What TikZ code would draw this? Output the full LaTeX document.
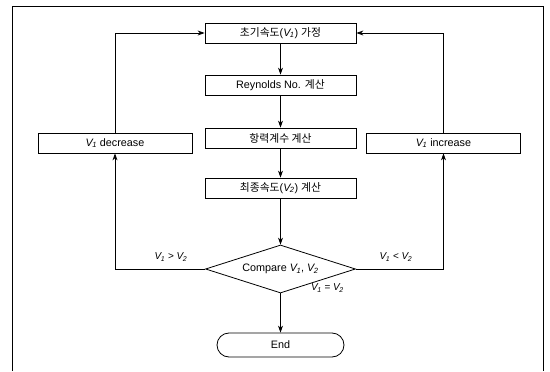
\documentclass[tikz,border=0pt]{standalone}
\usepackage{fontspec}
\setmainfont{Liberation Sans}
\newfontfamily\kr{Noto Sans CJK KR}
\usetikzlibrary{shapes.geometric,arrows.meta}
\newcommand{\Vsub}[1]{\textit{V\kern-0.05em\textsubscript{#1}}}
\tikzset{
  txt/.style={font=\fontsize{10.8}{12}\selectfont},
  proc/.style={draw, line width=0.8pt, minimum width=151pt, minimum height=20pt, inner sep=0pt, txt},
  side/.style={draw, line width=0.8pt, minimum width=154pt, minimum height=20pt, inner sep=0pt, txt},
  decide/.style={draw, line width=0.8pt, diamond, aspect=3.125, minimum width=150pt, minimum height=48pt, inner sep=0pt, txt},
  term/.style={draw, line width=0.8pt, rounded corners=12pt, minimum width=127pt, minimum height=24pt, inner sep=0pt, txt},
  cond/.style={inner sep=1pt, font=\fontsize{10}{11}\selectfont},
  flow/.style={line width=0.8pt, -{Stealth[length=7pt,width=5pt]}},
  frame/.style={line width=0.9pt}
}
\begin{document}
\begin{tikzpicture}[x=1pt,y=-1pt]
  \useasboundingbox (0,0) rectangle (550,372);
  % page frame, open at the bottom
  \draw[frame] (12,371) -- (12,6) -- (543,6) -- (543,371);

  % main column
  \node[proc] (init)  at (280.5,33)  {{\kr 초기속도}(\Vsub{1}) {\kr 가정}};
  \node[proc] (reyn)  at (280.5,85)  {Reynolds No. {\kr 계산}};
  \node[proc] (drag)  at (280.5,138) {{\kr 항력계수 계산}};
  \node[proc] (final) at (280.5,188) {{\kr 최종속도}(\Vsub{2}) {\kr 계산}};
  \node[decide] (cmp) at (280.5,269) {Compare \Vsub{1}, \Vsub{2}};
  \node[term] (fin)   at (280.5,345) {End};

  % correction boxes
  \node[side] (dec) at (115,143)   {\Vsub{1} decrease};
  \node[side] (inc) at (443.5,143) {\Vsub{1} increase};

  % main flow
  \draw[flow] (init) -- (reyn);
  \draw[flow] (reyn) -- (drag);
  \draw[flow] (drag) -- (final);
  \draw[flow] (final) -- (cmp);
  \draw[flow] (cmp) -- (fin);

  % feedback loops
  \draw[flow] (cmp.west) -| (dec.south);
  \draw[flow] (cmp.east) -| (inc.south);
  \draw[flow] (dec.north) |- (init.west);
  \draw[flow] (inc.north) |- (init.east);

  % branch conditions
  \node[cond] (lt) at (171,257) {\Vsub{1} > \Vsub{2}};
  \node[cond] (gt) at (396,257) {\Vsub{1} < \Vsub{2}};
  \node[cond, anchor=west] (eq) at (310,288) {\Vsub{1} = \Vsub{2}};
\end{tikzpicture}
\end{document}
